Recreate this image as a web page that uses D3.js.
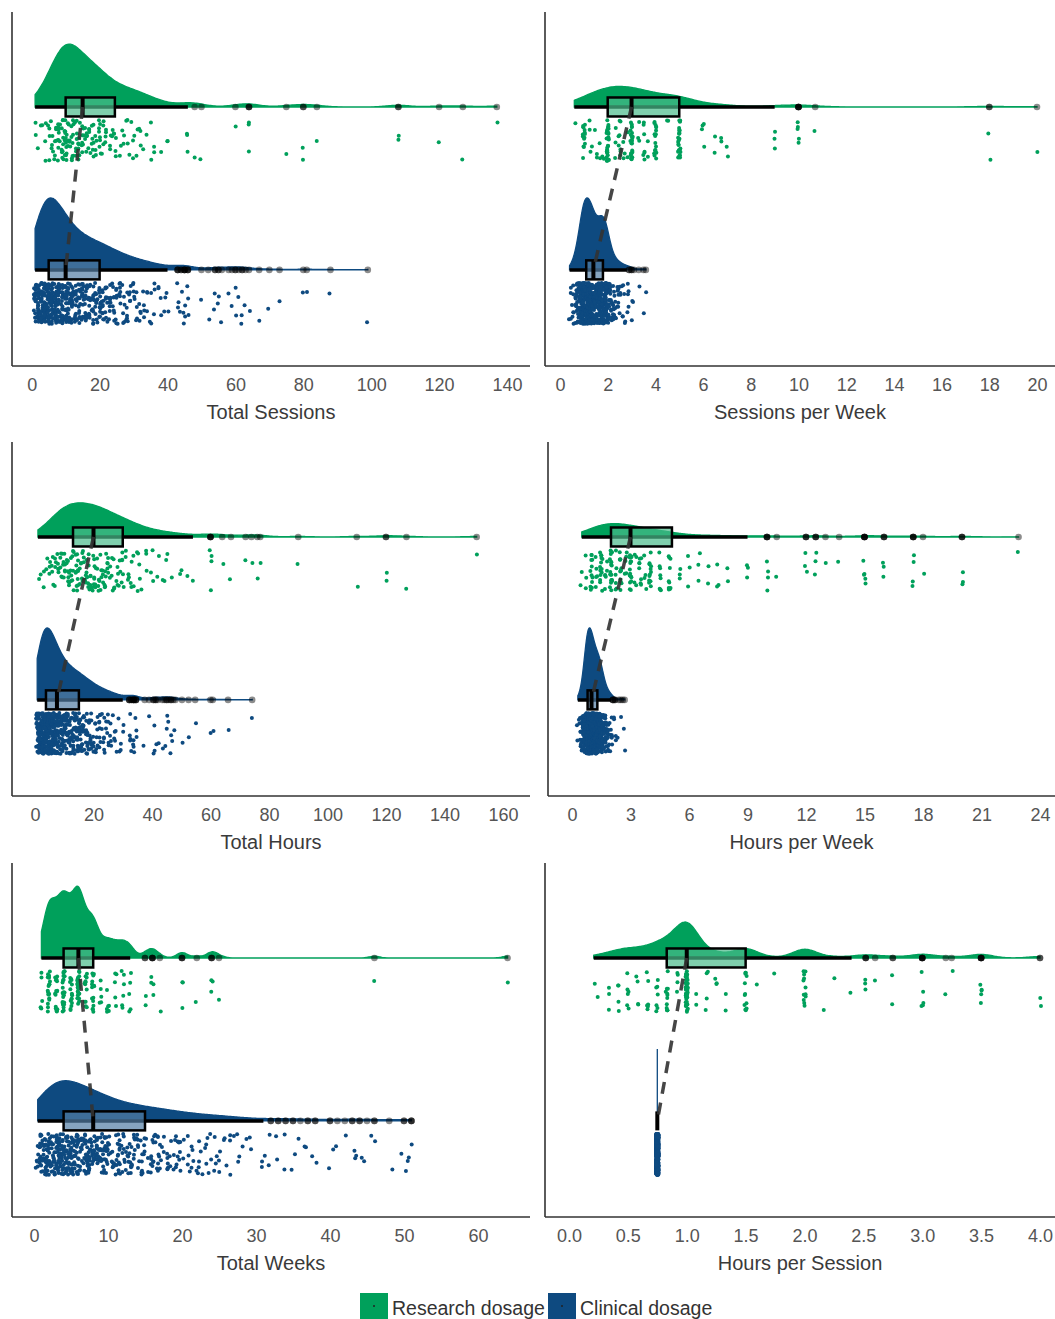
<!DOCTYPE html>
<html>
<head>
<meta charset="utf-8">
<script src="https://cdn.jsdelivr.net/npm/d3@7"></script>
<style>
  body { margin: 0; background: #fff; }
  svg { display: block; }
  text { font-family: "Liberation Sans", Arial, sans-serif; }
</style>
</head>
<body>
<svg id="chart" width="1055" height="1319"></svg>
<script>
// values as [value, number of participants]
const totalSessionsResearch = [[1,2],[2,1],[3,2],[4,3],[5,4],[6,5],[7,6],[8,10],[9,10],[10,14],[11,8],[12,10],[13,7],[14,7],[15,8],[16,7],[17,5],[18,7],[19,4],[20,8],[21,4],[22,4],[23,3],[24,4],[25,3],[26,2],[27,3],[28,3],[29,2],[30,3],[31,2],[32,3],[33,1],[34,1],[35,2],[36,2],[38,1],[40,2],[46,3],[48,1],[50,1],[60,1],[64,3],[75,1],[80,2],[84,1],[108,2],[120,1],[127,1],[137,1]];
const totalSessionsClinical = [[1,20],[2,26],[3,32],[4,36],[5,34],[6,30],[7,28],[8,26],[9,24],[10,24],[11,16],[12,16],[13,16],[14,15],[15,14],[16,13],[17,12],[18,12],[19,11],[20,11],[21,10],[22,10],[23,9],[24,8],[25,7],[26,7],[27,6],[28,6],[29,5],[30,5],[31,4],[32,4],[33,4],[34,3],[35,3],[36,3],[37,2],[38,2],[39,2],[40,2],[43,3],[44,2],[45,4],[46,3],[50,1],[52,1],[54,2],[55,2],[56,1],[58,1],[59,1],[60,2],[61,1],[62,2],[63,1],[64,1],[67,1],[70,1],[73,1],[80,1],[81,1],[88,1],[99,1]];

const sessionsPerWeekResearch = [[0.6,1],[1,14],[1.2,2],[1.3,2],[1.5,3],[1.7,2],[1.8,2],[2,30],[2.3,3],[2.5,8],[2.7,3],[2.8,2],[3,25],[3.3,3],[3.5,7],[3.7,2],[4,18],[4.5,2],[5,25],[6,4],[6.5,2],[6.8,2],[7,2],[9,3],[10,5],[10.7,1],[18,2],[20,1]];
const sessionsPerWeekClinical = [[0.4,2],[0.5,4],[0.6,8],[0.7,14],[0.8,24],[0.9,36],[1,48],[1.1,46],[1.2,46],[1.3,44],[1.4,36],[1.5,32],[1.6,32],[1.7,34],[1.8,36],[1.9,34],[2,26],[2.1,16],[2.2,10],[2.3,8],[2.4,6],[2.5,5],[2.6,4],[2.7,3],[2.8,3],[2.9,2],[3,2],[3.1,1],[3.3,1],[3.5,1],[3.6,1]];

const totalHoursResearch = [[1,1],[2,1],[3,2],[4,2],[5,3],[6,4],[7,4],[8,5],[9,6],[10,7],[11,6],[12,7],[13,6],[14,7],[15,7],[16,6],[17,6],[18,7],[19,5],[20,8],[21,5],[22,6],[23,5],[24,6],[25,5],[26,4],[27,4],[28,4],[29,3],[30,6],[31,2],[32,3],[33,3],[34,2],[35,3],[36,3],[38,3],[40,3],[42,2],[44,2],[45,2],[47,1],[50,2],[52,1],[54,1],[60,4],[64,1],[67,1],[72,1],[74,1],[76,1],[77,1],[90,1],[110,1],[120,2],[127,1],[151,1]];
const totalHoursClinical = [[0.75,20],[1.5,26],[2.25,32],[3,36],[3.75,34],[4.5,30],[5.25,28],[6,26],[6.75,24],[7.5,24],[8.25,16],[9,16],[9.75,16],[10.5,15],[11.25,14],[12,13],[12.75,12],[13.5,12],[14.25,11],[15,11],[15.75,10],[16.5,10],[17.25,9],[18,8],[18.75,7],[19.5,7],[20.25,6],[21,6],[21.75,5],[22.5,5],[23.25,4],[24,4],[24.75,4],[25.5,3],[26.25,3],[27,3],[27.75,2],[28.5,2],[29.25,2],[30,2],[32.25,3],[33,2],[33.75,4],[34.5,3],[37.5,1],[39,1],[40.5,2],[41.25,2],[42,1],[43.5,1],[44.25,1],[45,2],[45.75,1],[46.5,2],[47.25,1],[48,1],[50.25,1],[52.5,1],[54.75,1],[60,1],[60.75,1],[66,1],[74.25,1]];

const hoursPerWeekResearch = [[0.5,2],[0.75,3],[1,12],[1.25,5],[1.5,14],[1.75,6],[2,20],[2.25,6],[2.5,12],[2.75,5],[3,16],[3.25,4],[3.5,8],[3.75,4],[4,12],[4.5,8],[5,10],[5.5,3],[6,3],[6.5,3],[7,2],[7.5,3],[8,2],[9,3],[10,4],[10.5,1],[12,3],[12.5,3],[13,1],[13.7,1],[15,5],[16,3],[17.5,4],[18,1],[20,3],[22.9,1]];
const hoursPerWeekClinical = [[0.3,3],[0.4,6],[0.5,14],[0.6,28],[0.7,46],[0.8,60],[0.9,62],[1,58],[1.1,50],[1.2,44],[1.3,40],[1.4,36],[1.5,30],[1.6,22],[1.7,14],[1.8,10],[1.9,7],[2,5],[2.1,3],[2.2,2],[2.4,1],[2.5,1],[2.6,1],[2.7,1]];

const totalWeeksResearch = [[1,6],[2,22],[3,16],[4,24],[5,16],[6,28],[7,12],[8,16],[9,5],[10,7],[11,5],[12,6],[13,5],[15,2],[16,4],[17,1],[20,3],[22,1],[24,3],[25,1],[46,1],[64,1]];
const totalWeeksClinical = [[0.5,8],[1,26],[2,38],[3,42],[4,42],[5,38],[6,32],[7,30],[8,28],[9,26],[10,20],[11,18],[12,16],[13,15],[14,14],[15,13],[16,12],[17,11],[18,10],[19,9],[20,8],[21,7],[22,6],[23,6],[24,5],[25,5],[26,4],[27,4],[28,3],[29,3],[31,3],[32,2],[33,2],[34,2],[35,2],[36,1],[37,2],[38,2],[40,2],[41,1],[42,1],[43,2],[44,2],[45,1],[46,2],[48,1],[50,2],[51,3]];

const hoursPerSessionResearch = [[0.21,1],[0.25,1],[0.33,3],[0.42,4],[0.5,6],[0.58,4],[0.67,6],[0.75,7],[0.83,12],[0.92,4],[1,42],[1.08,2],[1.17,4],[1.25,3],[1.33,2],[1.5,12],[1.6,1],[1.75,1],[2,12],[2.17,1],[2.25,1],[2.4,1],[2.52,3],[2.6,1],[2.75,2],[3,5],[3.2,1],[3.25,1],[3.5,5],[4,2]];
const hoursPerSessionClinical = [[0.75,540]];

const sessionTicks = [0, 20, 40, 60, 80, 100, 120, 140];
const sessionsPerWeekTicks = [0, 2, 4, 6, 8, 10, 12, 14, 16, 18, 20];
const hourTicks = [0, 20, 40, 60, 80, 100, 120, 140, 160];
const hoursPerWeekTicks = [0, 3, 6, 9, 12, 15, 18, 21, 24];
const weekTicks = [0, 10, 20, 30, 40, 50, 60];
const hoursPerSessionTicks = [0, 0.5, 1, 1.5, 2, 2.5, 3, 3.5, 4];

const groups = ['Research dosage', 'Clinical dosage'];
const colors = ['#00a05b', '#0e4a80'];

const panels = [
  { title: 'Total Sessions', data: [totalSessionsResearch, totalSessionsClinical], ticks: sessionTicks, left: 12, right: 530, x0: 31.7, x1: 507, axisY: 366 },
  { title: 'Sessions per Week', data: [sessionsPerWeekResearch, sessionsPerWeekClinical], ticks: sessionsPerWeekTicks, left: 545, right: 1055, x0: 560, x1: 1037, axisY: 366 },
  { title: 'Total Hours', data: [totalHoursResearch, totalHoursClinical], ticks: hourTicks, left: 12, right: 530, x0: 35, x1: 503, axisY: 796 },
  { title: 'Hours per Week', data: [hoursPerWeekResearch, hoursPerWeekClinical], ticks: hoursPerWeekTicks, left: 548, right: 1055, x0: 572, x1: 1040, axisY: 796 },
  { title: 'Total Weeks', data: [totalWeeksResearch, totalWeeksClinical], ticks: weekTicks, left: 12, right: 530, x0: 34, x1: 478, axisY: 1217, adjust: [0.75, 1], spread: [2.4, 7.4] },
  { title: 'Hours per Session', data: [hoursPerSessionResearch, hoursPerSessionClinical], ticks: hoursPerSessionTicks, left: 545, right: 1055, x0: 569, x1: 1040, axisY: 1217, peak: 36, fmt: '.1f', adjust: [0.6, 1] }
];

const svg = d3.select('#chart');

function expand(pairs) {
  const out = [];
  pairs.forEach(([v, c]) => { for (let i = 0; i < c; i++) out.push(v); });
  return out;
}

// seeded jitter so the rain looks the same every run
function jitter(seed) {
  let a = seed;
  return function () {
    a |= 0; a = a + 0x6D2B79F5 | 0;
    let t = Math.imul(a ^ a >>> 15, 1 | a);
    t = t + Math.imul(t ^ t >>> 7, 61 | t) ^ t;
    return ((t ^ t >>> 14) >>> 0) / 4294967296;
  };
}

// gaussian kde with R's bw.nrd0, trimmed to the data range
function kde(values, adjust) {
  const n = values.length;
  const sd = d3.deviation(values) || 0;
  const iqr = d3.quantile(values, 0.75) - d3.quantile(values, 0.25);
  let lo = Math.min(sd, iqr / 1.34);
  if (!(lo > 0)) lo = sd;
  if (!(lo > 0)) return null;
  const bw = 0.9 * lo * Math.pow(n, -0.2) * adjust;
  const [mn, mx] = d3.extent(values);
  return d3.range(0, 301).map(i => {
    const x = mn + (mx - mn) * i / 300;
    const s = d3.sum(values, v => Math.exp(-0.5 * ((x - v) / bw) ** 2));
    return [x, s / (n * bw * Math.sqrt(2 * Math.PI))];
  });
}

function boxStats(values) {
  const s = values.slice().sort(d3.ascending);
  const q1 = d3.quantileSorted(s, 0.25), med = d3.quantileSorted(s, 0.5), q3 = d3.quantileSorted(s, 0.75);
  const iqr = q3 - q1, lo = q1 - 1.5 * iqr - 1e-9, hi = q3 + 1.5 * iqr + 1e-9;
  const inside = s.filter(v => v >= lo && v <= hi);
  return { q1, med, q3, wlo: inside[0], whi: inside[inside.length - 1], out: s.filter(v => v < lo || v > hi) };
}

panels.forEach((p, pi) => {
  const g = svg.append('g');
  const x = d3.scaleLinear().domain([p.ticks[0], p.ticks[p.ticks.length - 1]]).range([p.x0, p.x1]);
  const y = d3.scaleLinear().domain([0.41, 2.583]).range([p.axisY, p.axisY - 354]);
  const pos = [2, 1];
  const series = p.data.map(expand);
  const adjust = p.adjust || [1, 1];
  const spread = p.spread || [2.4, 2.4];
  const dens = series.map((v, i) => kde(v, adjust[i]));
  const maxD = d3.max(dens.filter(Boolean), d => d3.max(d, e => e[1]));
  const h = d3.scaleLinear().domain([0, maxD]).range([0, p.peak || 72]);
  const stats = series.map(boxStats);

  // axes
  g.append('line').attr('x1', p.left).attr('x2', p.left).attr('y1', p.axisY - 354).attr('y2', p.axisY)
    .attr('stroke', '#333').attr('stroke-width', 1.6);
  g.append('line').attr('x1', p.left).attr('x2', p.right).attr('y1', p.axisY).attr('y2', p.axisY)
    .attr('stroke', '#333').attr('stroke-width', 1.6);
  const ax = g.append('g').attr('transform', `translate(0,${p.axisY})`)
    .call(d3.axisBottom(x).tickValues(p.ticks).tickSize(0).tickPadding(12)
      .tickFormat(p.fmt ? d3.format(p.fmt) : d3.format('d')));
  ax.select('.domain').remove();
  ax.selectAll('text').attr('font-size', 18).attr('fill', '#555')
    .attr('font-family', '"Liberation Sans", Arial, sans-serif');
  g.append('text').attr('x', (p.left + p.right) / 2).attr('y', p.axisY + 53)
    .attr('text-anchor', 'middle').attr('font-size', 20).attr('fill', '#3a3a3a').text(p.title);

  series.forEach((vals, gi) => {
    const base = y(pos[gi]);
    const col = colors[gi];
    const d = dens[gi];
    if (d) {
      g.append('path').datum(d)
        .attr('d', d3.area().x(e => x(e[0])).y0(base).y1(e => base - h(e[1])).curve(d3.curveBasis))
        .attr('fill', col).attr('stroke', col).attr('stroke-width', 1.3);
    } else {
      g.append('line').attr('x1', x(vals[0])).attr('x2', x(vals[0]))
        .attr('y1', base).attr('y2', base - 72).attr('stroke', col).attr('stroke-width', 1.3);
    }

    const rnd = jitter(pi * 31 + gi * 7 + 5);
    g.append('g').selectAll('circle').data(vals).join('circle')
      .attr('cx', v => x(v) + (rnd() - 0.5) * spread[gi])
      .attr('cy', () => base + 13 + rnd() * 41)
      .attr('r', 2).attr('fill', col);

    const s = stats[gi];
    g.append('line').attr('x1', x(s.wlo)).attr('x2', x(s.whi)).attr('y1', base).attr('y2', base)
      .attr('stroke', '#000').attr('stroke-width', 3.5);
    const bx = x(s.q1), bw = Math.max(0, x(s.q3) - x(s.q1));
    g.append('rect').attr('x', bx).attr('y', base - 9.5).attr('width', bw).attr('height', 19)
      .attr('fill', '#fff').attr('fill-opacity', 0.4);
    g.append('rect').attr('x', bx).attr('y', base - 9.5).attr('width', bw).attr('height', 19)
      .attr('fill', col).attr('fill-opacity', 0.5).attr('stroke', '#000').attr('stroke-width', 2.5);
    g.append('line').attr('x1', x(s.med)).attr('x2', x(s.med)).attr('y1', base - 9.5).attr('y2', base + 9.5)
      .attr('stroke', '#000').attr('stroke-width', 4);
    g.append('g').selectAll('circle').data(s.out).join('circle')
      .attr('cx', v => x(v)).attr('cy', base).attr('r', 3.3)
      .attr('fill', '#000').attr('fill-opacity', 0.45);
  });

  g.append('line')
    .attr('x1', x(stats[0].med)).attr('y1', y(pos[0]))
    .attr('x2', x(stats[1].med)).attr('y2', y(pos[1]))
    .attr('stroke', '#333').attr('stroke-width', 3.5).attr('stroke-dasharray', '12,9').attr('opacity', 0.9);
});

// legend
const legend = svg.append('g');
const legendX = [360, 548];
groups.forEach((name, i) => {
  legend.append('rect').attr('x', legendX[i]).attr('y', 1293).attr('width', 28).attr('height', 26).attr('fill', colors[i]);
  legend.append('circle').attr('cx', legendX[i] + 14).attr('cy', 1306).attr('r', 1).attr('fill', '#222');
  legend.append('text').attr('x', legendX[i] + 32).attr('y', 1315).attr('font-size', 19.5).attr('fill', '#333').text(name);
});
</script>
</body>
</html>
